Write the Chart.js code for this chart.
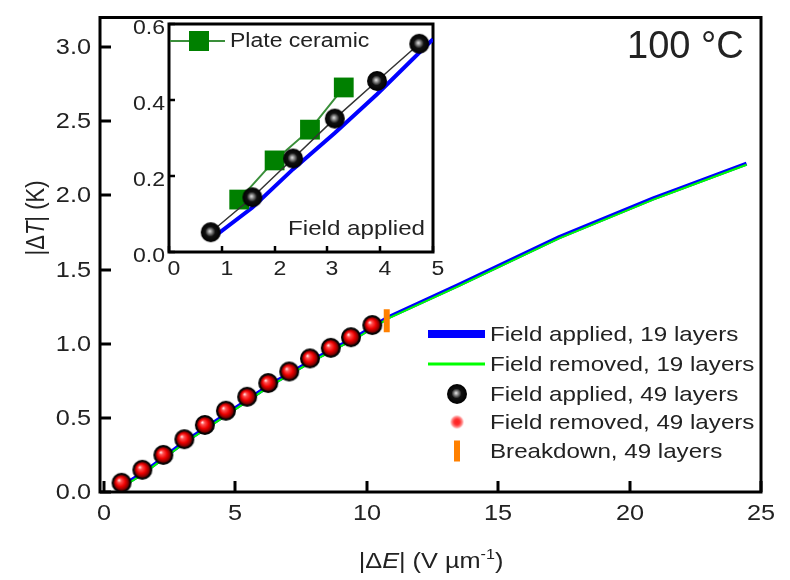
<!DOCTYPE html>
<html>
<head>
<meta charset="utf-8">
<script src="https://cdn.jsdelivr.net/npm/chart.js@4.4.0/dist/chart.umd.min.js"></script>
<style>
	html, body { margin: 0; padding: 0; background: #fff; }
	#wrap { position: relative; width: 790px; height: 580px; }
	#main { position: absolute; left: 0; top: 0; }
	#inset { position: absolute; left: 110px; top: 10px; }
</style>
</head>
<body>
<div id="wrap">
	<canvas id="main" width="790" height="580"></canvas>
	<canvas id="inset" width="340" height="280"></canvas>
</div>
<script>
"use strict";

/********/
/* data */
/********/
// main panel, 19 layers (continuous traces)
const eField19 = [0.6, 1.5, 3.0, 4.7, 6.3, 8.0, 9.7, 10.8, 13.5, 17.3, 20.9, 21.8, 24.45];
const dTApplied19 = [0.03, 0.13, 0.33, 0.53, 0.72, 0.895, 1.055, 1.177, 1.397, 1.717, 1.98, 2.04, 2.215];
const dTRemoved19 = [0.022, 0.122, 0.322, 0.522, 0.712, 0.887, 1.047, 1.169, 1.389, 1.709, 1.972, 2.032, 2.207];
// main panel, 49 layers (points)
const eField49 = [0.67, 1.46, 2.26, 3.06, 3.84, 4.64, 5.45, 6.25, 7.05, 7.84, 8.63, 9.40, 10.21];
const dTApplied49 = [0.062, 0.150, 0.250, 0.356, 0.452, 0.548, 0.642, 0.735, 0.813, 0.901, 0.972, 1.044, 1.126];
const dTRemoved49 = [0.062, 0.150, 0.250, 0.356, 0.452, 0.548, 0.642, 0.735, 0.813, 0.901, 0.972, 1.044, 1.126];
const breakdownE = [10.76];
const breakdownT = [1.155];
// inset
const insetE49 = [0.79, 1.58, 2.35, 3.14, 3.94, 4.74];
const insetT49 = [0.052, 0.144, 0.246, 0.351, 0.450, 0.548];
const insetE19 = [0.85, 1.58, 2.35, 3.14, 3.94, 5.0];
const insetT19 = [0.040, 0.117, 0.218, 0.313, 0.415, 0.560];
const plateE = [1.33, 2.00, 2.67, 3.31];
const plateT = [0.138, 0.241, 0.322, 0.433];
// ticks
const mainXTicks = [0, 5, 10, 15, 20, 25];
const mainYTicks = [0, 0.5, 1.0, 1.5, 2.0, 2.5, 3.0];
const insetXTicks = [0, 1, 2, 3, 4, 5];
const insetYTicks = [0, 0.2, 0.4, 0.6];

/***********/
/* helpers */
/***********/
const FAM = "'Liberation Sans', Arial, sans-serif";
const INK = "#222";
const SX = 1.15; // the reference text is a little wide

function pairs(xs, ys) {
	return xs.map((x, i) => ({ x: x, y: ys[i] }));
}

function makeBall(r, stops, off) {
	// small shaded sphere used as a point style
	const s = Math.ceil(r * 2 + 2);
	const c = document.createElement("canvas");
	c.width = s;
	c.height = s;
	const g = c.getContext("2d");
	const m = s / 2;
	const grad = g.createRadialGradient(m - r * off, m - r * off, 0, m, m, r);
	stops.forEach(st => grad.addColorStop(st[0], st[1]));
	g.fillStyle = grad;
	g.beginPath();
	g.arc(m, m, r, 0, Math.PI * 2);
	g.fill();
	return c;
}

const blackBall = makeBall(10, [[0, "#e8e8e8"], [0.22, "#888"], [0.5, "#111"], [1, "#000"]], 0.1);
const redBall = makeBall(8, [[0, "#fff"], [0.25, "#ff5050"], [0.6, "#ee0000"], [0.9, "#800000"], [1, "#300"]], 0.35);
const redDot = makeBall(6.5, [[0, "#ff2020"], [0.45, "#ff3030"], [1, "#ffc0c0"]], 0);

function text(ctx, str, x, y, size, align, opts) {
	opts = opts || {};
	ctx.save();
	ctx.translate(x, y);
	ctx.scale(opts.sx || SX, 1);
	ctx.font = (opts.italic ? "italic " : "") + size + "px " + FAM;
	ctx.fillStyle = INK;
	ctx.textAlign = align;
	ctx.textBaseline = opts.baseline || "middle";
	ctx.fillText(str, 0, 0);
	ctx.restore();
}

function rich(ctx, parts, size) {
	// draws mixed upright / italic / superscript text centred at 0,0
	const fontOf = st => (st === "i" ? "italic " : "") + (st === "sup" ? Math.round(size * 0.62) : size) + "px " + FAM;
	let total = 0;
	parts.forEach(p => {
		ctx.font = fontOf(p[1]);
		total += ctx.measureText(p[0]).width;
	});
	let x = -total / 2;
	ctx.fillStyle = INK;
	ctx.textAlign = "left";
	ctx.textBaseline = "alphabetic";
	parts.forEach(p => {
		ctx.font = fontOf(p[1]);
		ctx.fillText(p[0], x, p[1] === "sup" ? -size * 0.42 : 0);
		x += ctx.measureText(p[0]).width;
	});
}

// frame with inward ticks, plus tick labels
const framePlugin = {
	id: "frame",
	beforeDatasetsDraw(chart, args, o) {
		const ctx = chart.ctx;
		const a = chart.chartArea;
		const xs = chart.scales.x;
		const ys = chart.scales.y;
		ctx.save();
		ctx.strokeStyle = "#000";
		ctx.lineWidth = o.tickWidth;
		xs.ticks.forEach(t => {
			const px = Math.round(xs.getPixelForValue(t.value));
			ctx.beginPath();
			ctx.moveTo(px, a.bottom);
			ctx.lineTo(px, a.bottom - o.tickLen);
			ctx.stroke();
			text(ctx, o.fmtX(t.value), px + o.xLabelShift, o.xLabelY, o.size, "center");
		});
		ys.ticks.forEach(t => {
			const py = Math.round(ys.getPixelForValue(t.value));
			ctx.beginPath();
			ctx.moveTo(a.left, py);
			ctx.lineTo(a.left + o.tickLen, py);
			ctx.stroke();
			text(ctx, o.fmtY(t.value), a.left - o.yLabelPad, py + o.yLabelShift, o.size, "right");
		});
		ctx.lineWidth = o.width;
		ctx.strokeRect(a.left, a.top, a.right - a.left, a.bottom - a.top);
		ctx.restore();
	}
};

const mainDecor = {
	id: "mainDecor",
	afterDraw(chart) {
		const ctx = chart.ctx;
		ctx.save();
		// axis titles
		ctx.save();
		ctx.translate(431, 568);
		ctx.scale(SX, 1);
		rich(ctx, [["|\u0394", ""], ["E", "i"], ["| (V \u00b5m", ""], ["-1", "sup"], [")", ""]], 22);
		ctx.restore();
		ctx.save();
		ctx.translate(44, 218);
		ctx.rotate(-Math.PI / 2);
		ctx.scale(1, SX);
		rich(ctx, [["|\u0394", ""], ["T", "i"], ["| (K)", ""]], 22);
		ctx.restore();
		// temperature tag
		text(ctx, "100 \u00b0C", 627, 58, 38, "left", { sx: 1, baseline: "alphabetic" });
		// legend
		const lx0 = 428, lx1 = 485, mx = 457, tx = 490;
		const rows = [334, 364, 394, 422, 451];
		ctx.strokeStyle = "#0000ff";
		ctx.lineWidth = 8;
		ctx.beginPath(); ctx.moveTo(lx0, rows[0]); ctx.lineTo(lx1, rows[0]); ctx.stroke();
		ctx.strokeStyle = "#00ff00";
		ctx.lineWidth = 3;
		ctx.beginPath(); ctx.moveTo(lx0, rows[1]); ctx.lineTo(lx1, rows[1]); ctx.stroke();
		ctx.drawImage(blackBall, mx - blackBall.width / 2, rows[2] - blackBall.height / 2);
		ctx.drawImage(redDot, mx - redDot.width / 2, rows[3] - redDot.height / 2);
		ctx.fillStyle = "#ff8000";
		ctx.fillRect(mx - 3, rows[4] - 10.5, 6, 21);
		const labels = ["Field applied, 19 layers", "Field removed, 19 layers", "Field applied, 49 layers",
			"Field removed, 49 layers", "Breakdown, 49 layers"];
		labels.forEach((l, i) => text(ctx, l, tx, rows[i] + 1, 21, "left"));
		ctx.restore();
	}
};

const insetDecor = {
	id: "insetDecor",
	afterDraw(chart) {
		const ctx = chart.ctx;
		ctx.save();
		ctx.strokeStyle = "#3a8f3a";
		ctx.lineWidth = 2;
		ctx.beginPath(); ctx.moveTo(60, 31); ctx.lineTo(115, 31); ctx.stroke();
		ctx.fillStyle = "#008000";
		ctx.fillRect(79, 21, 20, 20);
		text(ctx, "Plate ceramic", 120, 31, 20, "left");
		text(ctx, "Field applied", 315, 219, 21, "right");
		ctx.restore();
	}
};

/*********/
/* main  */
/*********/
new Chart(document.getElementById("main"), {
	type: "scatter",
	data: {
		datasets: [
			{ label: "Breakdown, 49 layers", data: pairs(breakdownE, breakdownT), pointStyle: "line",
				pointRotation: 90, pointRadius: 11.5, pointBorderColor: "#ff8000", pointBorderWidth: 6, order: 0 },
			{ label: "Field removed, 49 layers", data: pairs(eField49, dTRemoved49), pointStyle: redBall,
				pointRadius: 8, order: 1 },
			{ label: "Field applied, 49 layers", data: pairs(eField49, dTApplied49), pointStyle: blackBall,
				pointRadius: 10, order: 2 },
			{ label: "Field removed, 19 layers", data: pairs(eField19, dTRemoved19), showLine: true,
				pointRadius: 0, borderColor: "#00ff00", borderWidth: 2, order: 3 },
			{ label: "Field applied, 19 layers", data: pairs(eField19, dTApplied19), showLine: true,
				pointRadius: 0, borderColor: "#0000ff", borderWidth: 4, order: 4 }
		]
	},
	options: {
		responsive: false,
		animation: false,
		layout: { padding: { top: 8, right: 29, left: 0, bottom: 0 } },
		plugins: {
			legend: { display: false },
			tooltip: { enabled: false },
			frame: {
				width: 3, tickWidth: 3, tickLen: 11, size: 22,
				xLabelY: 514, xLabelShift: 0, yLabelPad: 9, yLabelShift: 1,
				fmtX: v => String(v), fmtY: v => v.toFixed(1)
			}
		},
		scales: {
			x: {
				type: "linear", min: -0.15, max: 25,
				grid: { display: false, drawTicks: false }, border: { display: false }, ticks: { display: false },
				afterBuildTicks: s => { s.ticks = mainXTicks.map(v => ({ value: v })); },
				afterFit: s => { s.height = 88; }
			},
			y: {
				type: "linear", min: 0, max: 3.2,
				grid: { display: false, drawTicks: false }, border: { display: false }, ticks: { display: false },
				afterBuildTicks: s => { s.ticks = mainYTicks.map(v => ({ value: v })); },
				afterFit: s => { s.width = 100; }
			}
		}
	},
	plugins: [framePlugin, mainDecor]
});

/*********/
/* inset */
/*********/
new Chart(document.getElementById("inset"), {
	type: "scatter",
	data: {
		datasets: [
			{ label: "Field applied, 49 layers", data: pairs(insetE49, insetT49), showLine: true,
				borderColor: "#333", borderWidth: 1.5, pointStyle: blackBall, pointRadius: 10, order: 0 },
			{ label: "Plate ceramic", data: pairs(plateE, plateT), showLine: true, borderColor: "#3a8f3a",
				borderWidth: 2, pointStyle: "rect", pointRadius: 14, pointBackgroundColor: "#008000",
				pointBorderWidth: 0, order: 1 },
			{ label: "Field applied, 19 layers", data: pairs(insetE19, insetT19), showLine: true,
				pointRadius: 0, borderColor: "#0000ff", borderWidth: 4, order: 2 }
		]
	},
	options: {
		responsive: false,
		animation: false,
		layout: { padding: { top: 10, right: 17, left: 0, bottom: 0 } },
		plugins: {
			legend: { display: false },
			tooltip: { enabled: false },
			frame: {
				width: 3, tickWidth: 2.5, tickLen: 6, size: 20,
				xLabelY: 259, xLabelShift: 5, yLabelPad: 4, yLabelShift: 4,
				fmtX: v => String(v), fmtY: v => v.toFixed(1)
			}
		},
		scales: {
			x: {
				type: "linear", min: 0, max: 5,
				grid: { display: false, drawTicks: false }, border: { display: false }, ticks: { display: false },
				afterBuildTicks: s => { s.ticks = insetXTicks.map(v => ({ value: v })); },
				afterFit: s => { s.height = 38; }
			},
			y: {
				type: "linear", min: 0, max: 0.6,
				grid: { display: false, drawTicks: false }, border: { display: false }, ticks: { display: false },
				afterBuildTicks: s => { s.ticks = insetYTicks.map(v => ({ value: v })); },
				afterFit: s => { s.width = 59; }
			}
		}
	},
	plugins: [framePlugin, insetDecor]
});
</script>
</body>
</html>
